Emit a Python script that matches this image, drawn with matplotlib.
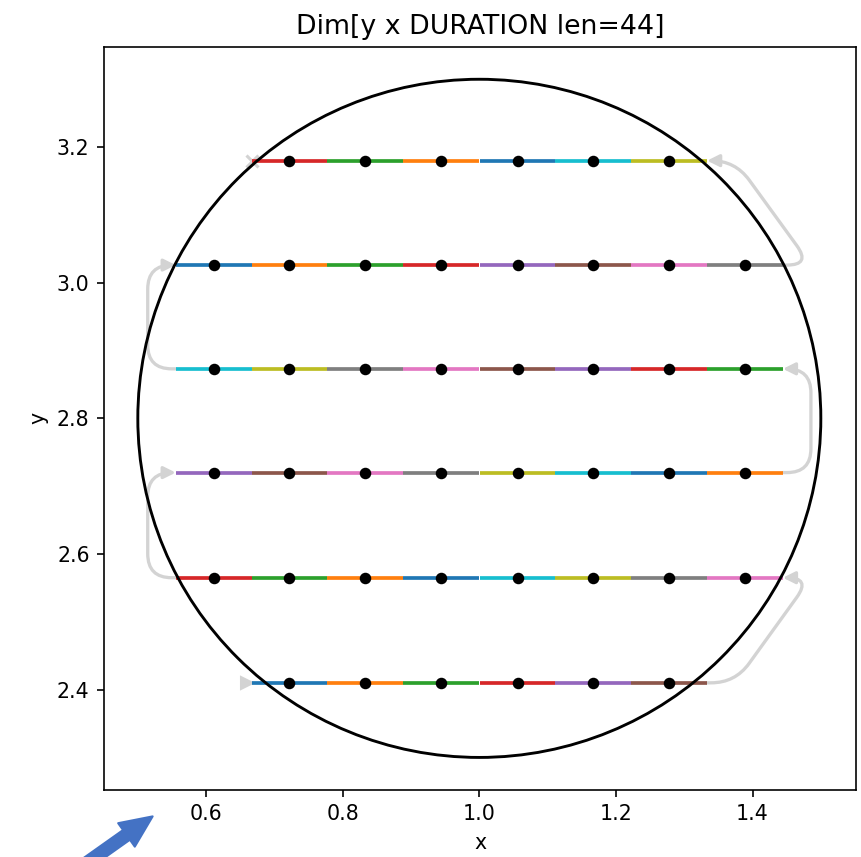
import numpy as np
import matplotlib
matplotlib.use("Agg")
import matplotlib.pyplot as plt
from matplotlib.patches import Circle, FancyArrowPatch
from matplotlib.transforms import offset_copy

# grid
title = "Dim[y x DURATION len=44]"
x_grid = [0.611, 0.722, 0.833, 0.944, 1.056, 1.167, 1.278, 1.389]
row_y = [2.41, 2.565, 2.72, 2.873, 3.026, 3.18]
row_start = [1, 0, 0, 0, 0, 1]   # first column used in each row
row_stop = [7, 8, 8, 8, 8, 7]    # one past last column
circle_center = (1.0, 2.8)
circle_radius = 0.5

# snake ordering: even rows left->right, odd rows right->left
xs, ys, row_of = [], [], []
for r, y in enumerate(row_y):
    cols = x_grid[row_start[r]:row_stop[r]]
    if r % 2:
        cols = cols[::-1]
    xs += cols
    ys += [y] * len(cols)
    row_of += [r] * len(cols)
xs = np.array(xs)
ys = np.array(ys)
row_of = np.array(row_of)
half = (x_grid[1] - x_grid[0]) / 2

DPI = 148
fig = plt.figure(figsize=(861 / DPI, 857 / DPI), dpi=DPI)
ax = fig.add_axes([0.1208, 0.0782, 0.8734, 0.8673])

colors = plt.rcParams['axes.prop_cycle'].by_key()['color']
for i in range(len(xs)):
    ax.plot([xs[i] - half, xs[i] + half], [ys[i], ys[i]], color=colors[i % 10],
            lw=1.8, solid_capstyle='butt', zorder=2)

# gray connectors between rows (arm/rad are in pixels)
for r in range(len(row_y) - 1):
    d = 1 if r % 2 == 0 else -1
    end_x = xs[row_of == r][-1] + d * half
    start_x = xs[row_of == r + 1][0] + d * half
    ang = 0 if d == 1 else 180
    ax.annotate('', xy=(start_x, row_y[r + 1]), xytext=(end_x, row_y[r]),
                arrowprops=dict(arrowstyle='-|>', color='lightgray', lw=1.6,
                                shrinkA=0, shrinkB=0, mutation_scale=12,
                                connectionstyle=f'arc,angleA={ang},angleB={ang},armA=28,armB=28,rad=24'),
                zorder=1)

# start / end markers
ax.plot(xs[0] - half, ys[0], '>', color='lightgray', ms=6, zorder=1,
        transform=offset_copy(ax.transData, fig, x=-5, units='dots'))
d_last = 1 if row_of[-1] % 2 == 0 else -1
ax.plot(xs[-1] + d_last * half, ys[-1], 'x', color='lightgray', ms=6, mew=1.5, zorder=1)

ax.add_patch(Circle(circle_center, circle_radius, fill=False, color='k', lw=1.4, zorder=3))
ax.plot(xs, ys, 'o', color='k', ms=4.6, zorder=4)

ax.set_xlim(0.4505, 1.5515)
ax.set_ylim(2.252, 3.348)
ax.set_xlabel("x")
ax.set_ylabel("y")
ax.set_title(title, fontsize=13)

# blue pointer arrow from the screenshot
arr = FancyArrowPatch((84 / 861, -8 / 857), (156 / 861, 43 / 857),
                      arrowstyle='simple,head_length=0.78,head_width=0.7,tail_width=0.29',
                      mutation_scale=20, color='#4472C4', transform=fig.transFigure)
fig.add_artist(arr)

fig.savefig("out.png", dpi=DPI)
